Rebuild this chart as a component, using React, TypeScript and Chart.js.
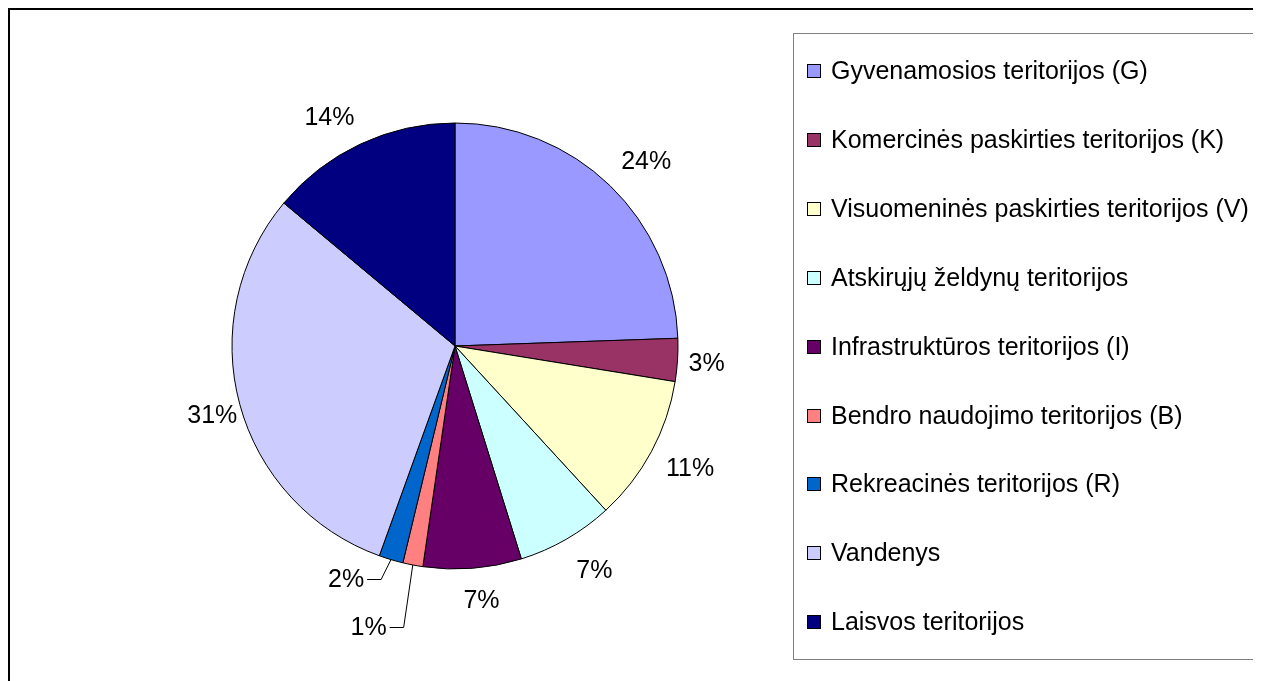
import React, { useEffect, useRef } from "react";
import { Chart, registerables } from "chart.js";

Chart.register(...registerables);

const categories: string[] = [
  "Gyvenamosios teritorijos (G)",
  "Komercinės paskirties teritorijos (K)",
  "Visuomeninės paskirties teritorijos (V)",
  "Atskirųjų želdynų teritorijos",
  "Infrastruktūros teritorijos (I)",
  "Bendro naudojimo teritorijos (B)",
  "Rekreacinės teritorijos (R)",
  "Vandenys",
  "Laisvos teritorijos",
];

const shares: number[] = [24.4, 3.1, 10.6, 7.0, 7.1, 1.45, 1.75, 30.5, 13.9];

const sliceColors: string[] = [
  "#9999FF",
  "#993366",
  "#FFFFCC",
  "#CCFFFF",
  "#660066",
  "#FF8080",
  "#0066CC",
  "#CCCCFF",
  "#000080",
];

const W = 1253;
const H = 673;
const FONT = '25px "Liberation Sans", Arial, sans-serif';

// label layout tweaks (style only)
const LABEL_GAP = 20;
const labelNudge: [number, number][] = [
  [5, -4],
  [-9, 1],
  [0, 3],
  [9, 6],
  [6, 3],
  [-37, 34],
  [-34, -8],
  [16, 3],
  [-12, -1],
];
const leaderLine: boolean[] = [false, false, false, false, false, true, true, false, false];

const decorPlugin = {
  id: "decor",
  afterDraw(chart: any) {
    const ctx: CanvasRenderingContext2D = chart.ctx;
    const total = shares.reduce((a, b) => a + b, 0);
    ctx.save();
    // outer frame (left + top visible)
    ctx.fillStyle = "#000";
    ctx.fillRect(0, 0, 2, H);
    ctx.fillRect(0, 0, W, 2);

    // legend box
    ctx.strokeStyle = "#808080";
    ctx.lineWidth = 1;
    ctx.strokeRect(785.5, 25.5, 700, 626);

    // legend entries
    ctx.font = FONT;
    ctx.textBaseline = "middle";
    ctx.textAlign = "left";
    const y0 = 63;
    const step = 68.9;
    categories.forEach((lab, i) => {
      const cy = Math.round(y0 + i * step);
      ctx.fillStyle = sliceColors[i];
      ctx.fillRect(799, cy - 7, 14, 14);
      ctx.strokeStyle = "#000";
      ctx.lineWidth = 1;
      ctx.strokeRect(799.5, cy - 6.5, 13, 13);
      ctx.fillStyle = "#000";
      ctx.fillText(lab, 823, cy + 1);
    });

    // percentage labels
    const meta = chart.getDatasetMeta(0);
    ctx.textAlign = "center";
    meta.data.forEach((arc: any, i: number) => {
      const p = arc.getProps(["x", "y", "startAngle", "endAngle", "outerRadius"], true);
      const mid = (p.startAngle + p.endAngle) / 2;
      const dx = Math.cos(mid);
      const dy = Math.sin(mid);
      const text = Math.round((shares[i] / total) * 100) + "%";
      const w = ctx.measureText(text).width;
      const h = 18;
      const lx = p.x + dx * (p.outerRadius + LABEL_GAP) + (dx * w) / 2 + labelNudge[i][0];
      const ly = p.y + dy * (p.outerRadius + LABEL_GAP) + (dy * h) / 2 + labelNudge[i][1];
      ctx.fillStyle = "#000";
      ctx.fillText(text, lx, ly + 1);
      if (leaderLine[i]) {
        ctx.strokeStyle = "#000";
        ctx.lineWidth = 1;
        ctx.beginPath();
        ctx.moveTo(lx + w / 2 + 3, Math.round(ly) + 0.5);
        ctx.lineTo(lx + w / 2 + 17, Math.round(ly) + 0.5);
        ctx.lineTo(p.x + dx * p.outerRadius, p.y + dy * p.outerRadius);
        ctx.stroke();
      }
    });
    ctx.restore();
  },
};

export default function App() {
  const ref = useRef<HTMLCanvasElement | null>(null);
  useEffect(() => {
    if (!ref.current) return;
    const chart = new Chart(ref.current, {
      type: "pie",
      data: {
        labels: categories,
        datasets: [
          {
            data: shares,
            backgroundColor: sliceColors,
            borderColor: "#000",
            borderWidth: 1,
          },
        ],
      },
      options: {
        responsive: false,
        animation: false,
        radius: 223,
        layout: { padding: { left: 0, right: 359, top: 10, bottom: 7 } },
        plugins: {
          legend: { display: false },
          tooltip: { enabled: false },
        },
      } as any,
      plugins: [decorPlugin],
    });
    return () => chart.destroy();
  }, []);
  return (
    <div style={{ width: W, height: H }}>
      <canvas ref={ref} width={W} height={H} style={{ display: "block" }} />
    </div>
  );
}
